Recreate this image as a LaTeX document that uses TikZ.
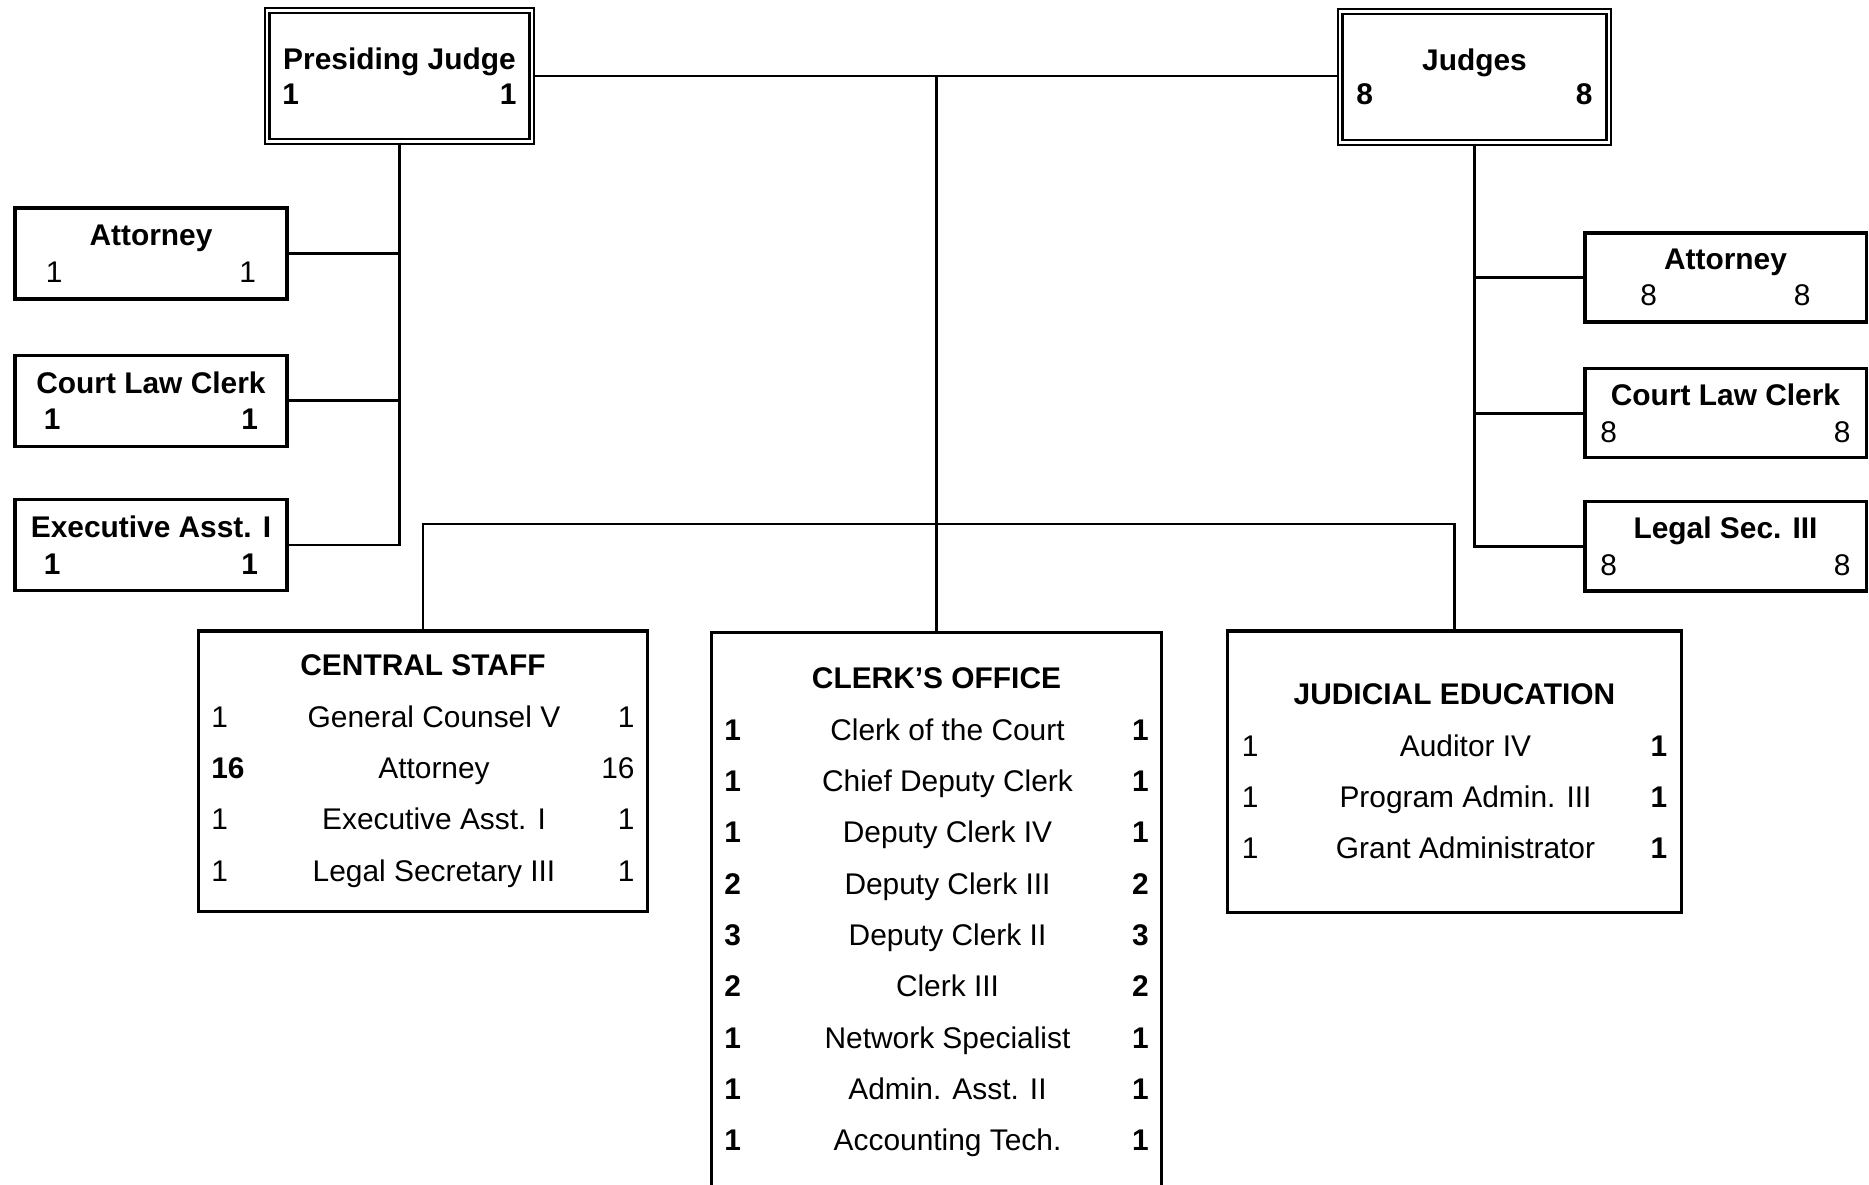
\documentclass[tikz,border=0pt]{standalone}
\usepackage{fontspec}
\setmainfont{Liberation Sans}
\usetikzlibrary{positioning}

% number line and staff line inside the boxes
\newcommand{\nums}[3]{\makebox[#1]{#2\hfill#3}}
\newcommand{\posline}[4]{\makebox[#1]{\rlap{#2}\hfill\hspace{0.22cm}#3\hfill\llap{#4}}}

\begin{document}
\begin{tikzpicture}[
    x=0.01cm, y=-0.01cm,
    font=\fontsize{8.5}{10.4}\selectfont,
    line width=0.8pt,
    post/.style={draw=black, line width=0.9pt, rectangle, inner sep=0pt, align=center},
    headpost/.style={post, double, double distance=0.6pt, line width=0.6pt, minimum height=1.31cm, font=\fontsize{8.5}{9.8}\selectfont},
    leftpost/.style={post, minimum width=2.72cm, minimum height=0.91cm},
    rightpost/.style={post, minimum width=2.81cm, minimum height=0.89cm},
    office/.style={post, minimum width=4.48cm, minimum height=2.8cm, font=\fontsize{8.5}{14.6}\selectfont}]
    % page
    \clip (0,0) rectangle (1869,1184);
    % NODES
    % top row
    \node[headpost, minimum width=2.64cm] (PJ) at (399.5,76) {\textbf{Presiding Judge}\\\nums{2.34cm}{\textbf{1}}{\textbf{1}}};
    \node[headpost, minimum width=2.68cm] (J) at (1474.5,77) {\textbf{Judges}\\\nums{2.36cm}{\textbf{8}}{\textbf{8}}};
    % left column
    \node[leftpost] (LA) at (151,253.5) {\textbf{Attorney}\\\nums{2.1cm}{1}{1}};
    \node[leftpost, below=0.53cm of LA] (LC) {\textbf{Court Law Clerk}\\\nums{2.14cm}{\textbf{1}}{\textbf{1}}};
    \node[leftpost, below=0.5cm of LC] (LE) {\textbf{Executive Asst. I}\\\nums{2.14cm}{\textbf{1}}{\textbf{1}}};
    % right column
    \node[rightpost] (RA) at (1725.5,277.5) {\textbf{Attorney}\\\nums{1.7cm}{8}{8}};
    \node[rightpost, below=0.434cm of RA] (RC) {\textbf{Court Law Clerk}\\\nums{2.5cm}{8}{8}};
    \node[rightpost, below=0.41cm of RC] (RL) {\textbf{Legal Sec. III}\\\nums{2.5cm}{8}{8}};
    % offices
    \node[office] (CS) at (423,771) {\textbf{CENTRAL STAFF}\\
        \posline{4.23cm}{1}{General Counsel V}{1}\\
        \posline{4.23cm}{\textbf{16}}{Attorney}{16}\\
        \posline{4.23cm}{1}{Executive Asst. I}{1}\\
        \posline{4.23cm}{1}{Legal Secretary III}{1}};
    \node[office, draw=none, minimum width=4.47cm, minimum height=5.57cm] (CO) at (936.5,912.5) {\textbf{CLERK'S OFFICE}\\
        \posline{4.24cm}{\textbf{1}}{Clerk of the Court}{\textbf{1}}\\
        \posline{4.24cm}{\textbf{1}}{Chief Deputy Clerk}{\textbf{1}}\\
        \posline{4.24cm}{\textbf{1}}{Deputy Clerk IV}{\textbf{1}}\\
        \posline{4.24cm}{\textbf{2}}{Deputy Clerk III}{\textbf{2}}\\
        \posline{4.24cm}{\textbf{3}}{Deputy Clerk II}{\textbf{3}}\\
        \posline{4.24cm}{\textbf{2}}{Clerk III}{\textbf{2}}\\
        \posline{4.24cm}{\textbf{1}}{Network Specialist}{\textbf{1}}\\
        \posline{4.24cm}{\textbf{1}}{Admin. Asst. II}{\textbf{1}}\\
        \posline{4.24cm}{\textbf{1}}{Accounting Tech.}{\textbf{1}}};
    \node[office, minimum width=4.53cm, minimum height=2.81cm] (JE) at (1454.5,771.5) {\textbf{JUDICIAL EDUCATION}\\
        \posline{4.25cm}{1}{Auditor IV}{\textbf{1}}\\
        \posline{4.25cm}{1}{Program Admin. III}{\textbf{1}}\\
        \posline{4.25cm}{1}{Grant Administrator}{\textbf{1}}};

    % LINES
    \coordinate (bus) at (936.5,524);
    \draw (PJ.east) -- (PJ.east -| J.west);
    \draw (PJ.east -| CO.north) -- (CO.north);
    \draw (CS.north) |- (bus) -| (JE.north);
    \draw (PJ.south) |- (LA.east);
    \draw (PJ.south) |- (LC.east);
    \draw (PJ.south) |- (LE.east);
    \draw (J.south) |- (RA.west);
    \draw (J.south) |- (RC.west);
    \draw (J.south) |- (RL.west);
    % clerk's office box runs off the page
    \draw[line width=0.9pt] (CO.south west) |- (CO.north east) -- (CO.south east);
\end{tikzpicture}
\end{document}
